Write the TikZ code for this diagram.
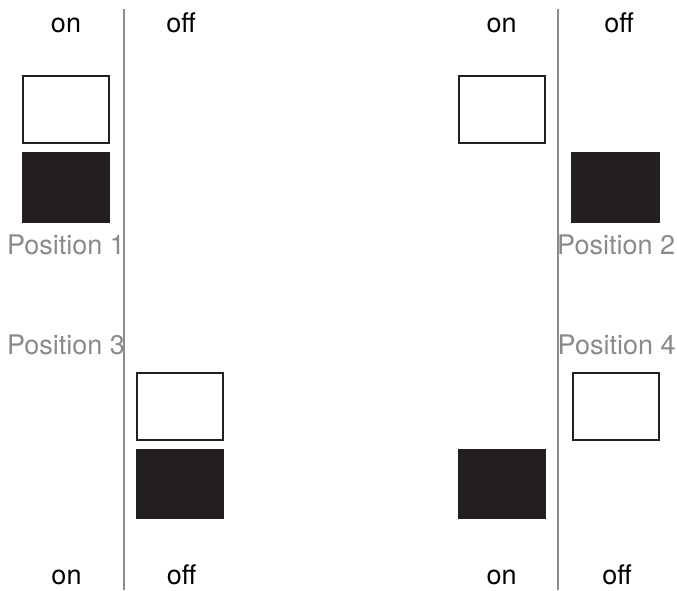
\documentclass[tikz,border=0pt]{standalone}
\usepackage{fontspec}
\setmainfont{TeX Gyre Heros}
\definecolor{ink}{HTML}{231F20}
\definecolor{rule}{HTML}{8C8C8C}
\definecolor{caption}{HTML}{8A8A8A}
\begin{document}
\begin{tikzpicture}[x=1pt,y=-1pt,
  label/.style={anchor=base,inner sep=0pt,font=\fontsize{27}{32}\selectfont,text=black},
  poslabel/.style={anchor=base west,inner sep=0pt,font=\fontsize{27}{32}\selectfont,text=caption},
  divider/.style={draw=rule,line width=2pt},
  offbox/.style={draw=ink,fill=white,line width=2pt,inner sep=0pt,minimum width=85.7pt,minimum height=67pt},
  onbox/.style={fill=ink,inner sep=0pt,minimum width=88.3pt,minimum height=70.4pt}]
\useasboundingbox (0,0) rectangle (677,591);

% dividers between the on and off columns
\coordinate (l1) at (124,9);
\coordinate (l2) at (124,590);
\coordinate (r1) at (558.3,9);
\coordinate (r2) at (558.3,590);
\draw[divider] (l1) -- (l2);
\draw[divider] (r1) -- (r2);

% column headings
\node[label] (tlon)  at (66,32.5)  {on};
\node[label] (tloff) at (181,32.5) {off};
\node[label] (tron)  at (501.7,32.5) {on};
\node[label] (troff) at (619,32.5)   {off};
\node[label] (blon)  at (66.5,584) {on};
\node[label] (bloff) at (181.5,584)  {off};
\node[label] (bron)  at (501.7,584) {on};
\node[label] (broff) at (617,584)  {off};

% switch states
\node[offbox] (p1a) at (66.2,109.5) {};
\node[onbox]  (p1b) at (66.2,187.5) {};
\node[offbox] (p2a) at (501.9,109.5) {};
\node[onbox]  (p2b) at (615.5,187.5) {};
\node[offbox] (p3a) at (180,406) {};
\node[onbox]  (p3b) at (180.2,484.2) {};
\node[offbox] (p4a) at (615.7,406) {};
\node[onbox]  (p4b) at (502,484.2) {};

% position captions
\node[poslabel] (pos1) at (6.8,254)   {Position 1};
\node[poslabel] (pos2) at (557,254)   {Position 2};
\node[poslabel] (pos3) at (6.8,354)   {Position 3};
\node[poslabel] (pos4) at (557.5,354) {Position 4};
\end{tikzpicture}
\end{document}
